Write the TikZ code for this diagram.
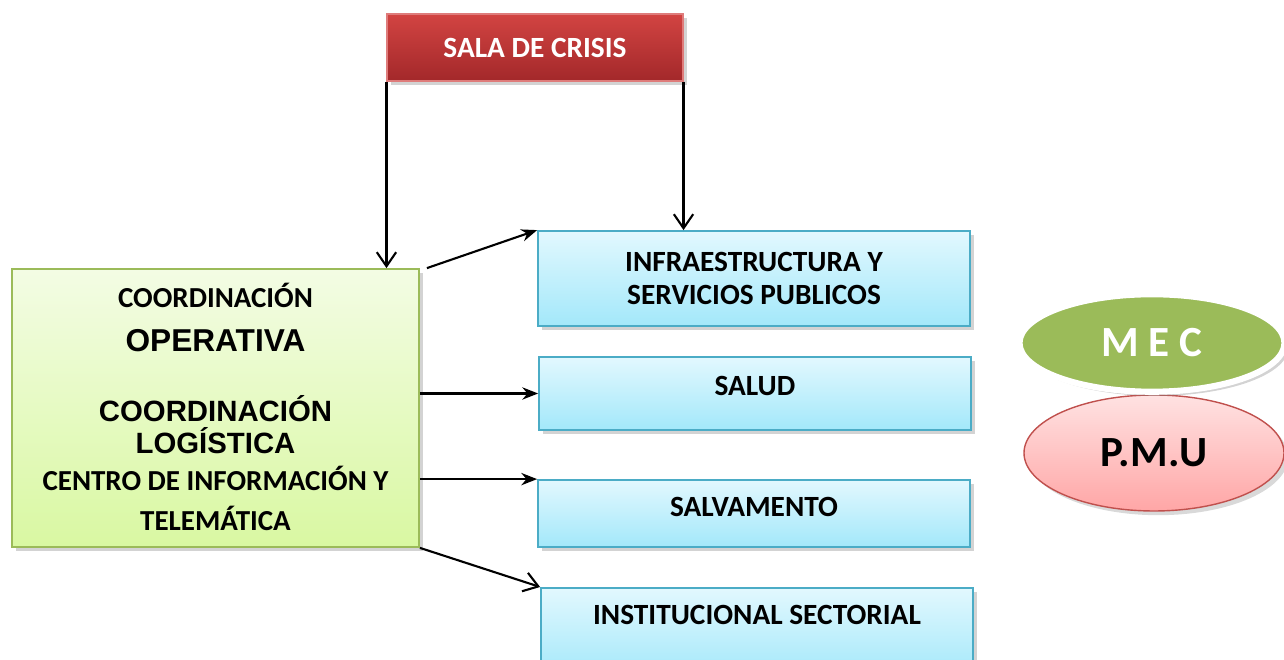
\documentclass[tikz,border=0pt]{standalone}
\usepackage{fontspec}
\setmainfont{Carlito}
\newfontfamily\arialfont{Liberation Sans}
\usetikzlibrary{shadows,arrows.meta,shapes.geometric}
\definecolor{crisistop}{HTML}{D24442}
\definecolor{crisisbot}{HTML}{A3282A}
\definecolor{greentop}{HTML}{F3FCE4}
\definecolor{greenbot}{HTML}{D9F8A2}
\definecolor{greenline}{HTML}{9BBB59}
\definecolor{bluetop}{HTML}{E2F8FE}
\definecolor{bluebot}{HTML}{A3E8FA}
\definecolor{blueline}{HTML}{4BACC6}
\definecolor{pinktop}{HTML}{FFE2E2}
\definecolor{pinkbot}{HTML}{FFA6A6}
\definecolor{pinkline}{HTML}{C0504D}
\tikzstyle{crisis}=[rectangle, top color=crisistop, bottom color=crisisbot, draw=crisistop!70!white, line width=0.6pt, drop shadow={opacity=0.35}, minimum width=5.92cm, minimum height=1.34cm, text=white, font=\fontsize{16.7}{20}\selectfont\bfseries]
\tikzstyle{coord}=[rectangle, top color=greentop, bottom color=greenbot, draw=greenline, line width=1pt, drop shadow={opacity=0.35}, minimum width=8.14cm, minimum height=5.56cm]
\tikzstyle{area}=[rectangle, top color=bluetop, bottom color=bluebot, draw=blueline, line width=1pt, drop shadow={opacity=0.35}, minimum width=8.64cm, align=center, font=\fontsize{16.7}{19.3}\selectfont\bfseries]
\tikzstyle{calibri}=[anchor=base, font=\fontsize{16.5}{20}\selectfont\bfseries]
\tikzstyle{arial}=[anchor=base, font=\arialfont\fontsize{16.7}{20}\selectfont\bfseries]
\tikzstyle{arrow}=[-{Stealth[length=9pt,width=7pt]}, line width=1.2pt]
\tikzstyle{barb}=[-{Straight Barb[length=8pt,width=11pt]}, line width=1.2pt]

\begin{document}
\begin{tikzpicture}
    \useasboundingbox (0,0) rectangle (25.68,13.2);
    % cajas
    \node [style=crisis] (sala) at (10.70, 12.25) {SALA DE CRISIS};
    \node [style=coord] (green) at (4.31, 5.04) {};
    \node [style=area, minimum height=1.9cm] (infra) at (15.08, 7.63) {INFRAESTRUCTURA Y\\SERVICIOS PUBLICOS};
    \node [style=area, minimum height=1.46cm, text depth=0.30cm] (salud) at (15.10, 5.33) {SALUD};
    \node [style=area, minimum height=1.34cm, text depth=0.25cm] (salva) at (15.08, 2.93) {SALVAMENTO};
    \node [style=area, minimum height=1.8cm, text depth=0.70cm, anchor=north] (inst) at (15.14, 1.46) {INSTITUCIONAL SECTORIAL};
    % textos de la coordinacion
    \node [style=calibri] (coordop) at (4.31, 7.04) {COORDINACIÓN};
    \node [style=arial, font=\arialfont\fontsize{18}{21}\selectfont\bfseries] (operativa) at (4.31, 6.16) {OPERATIVA};
    \node [style=arial] (coordlog) at (4.31, 4.76) {COORDINACIÓN};
    \node [style=arial] (logistica) at (4.31, 4.12) {LOGÍSTICA};
    \node [style=calibri] (centro) at (4.31, 3.38) {CENTRO DE INFORMACIÓN Y};
    \node [style=calibri] (telematica) at (4.31, 2.58) {TELEMÁTICA};
    % elipses
    \node [ellipse, top color=pinktop, bottom color=pinkbot, draw=pinkline, line width=0.8pt, drop shadow={opacity=0.3}, minimum width=5.2cm, minimum height=2.32cm, font=\fontsize{24.5}{29}\selectfont\bfseries] (pmu) at (23.08, 4.14) {P.M.U};
    \node [ellipse, fill=greenline, draw=white, line width=3.5pt, drop shadow={opacity=0.35}, minimum width=5.3cm, minimum height=1.95cm, text=white, font=\fontsize{24.5}{29}\selectfont\bfseries] (mec) at (23.04, 6.34) {M E C};
    % flechas
    \draw [style=barb] (sala.south west) -- (sala.south west |- green.north);
    \draw [style=barb] (sala.south east) -- (sala.south east |- infra.north);
    \draw [style=arrow] ([xshift=4pt]green.north east) -- (infra.north west);
    \draw [style=arrow] (green.east |- salud) -- (salud.west);
    \draw [style=arrow] (green.east |- salva.north west) -- (salva.north west);
    \draw [style=barb] (green.south east) -- (inst.north west);
\end{tikzpicture}
\end{document}
